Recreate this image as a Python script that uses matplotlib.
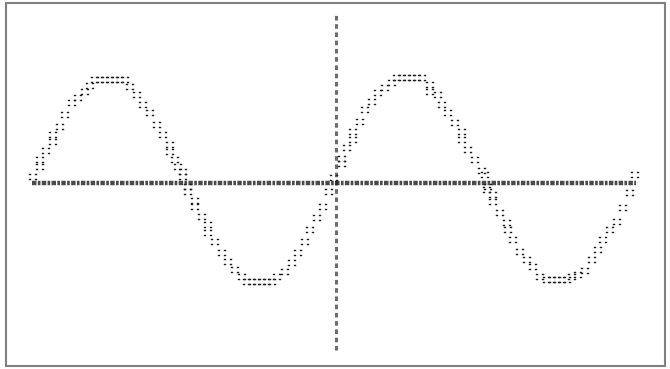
import matplotlib
matplotlib.use("Agg")
import matplotlib.pyplot as plt
from matplotlib.patches import Rectangle

# curve points (x in degrees, y in amplitude units)
curve_x = [1, 10, 10, 17, 25, 25, 33, 39, 48, 55, 63, 69,
           75, 81, 87, 93, 99, 105, 111,
           117, 125, 132, 141, 149, 156, 164, 164, 170, 174, 180, 180, 186,
           186, 194, 194, 203, 210, 210, 218, 226, 234, 242, 250,
           256, 262, 268, 274, 280, 286,
           292, 302, 310, 317, 325, 331, 340, 347, 354, 360,
           370, 370, 375, 383, 383, 391, 397, 405, 412, 421, 429,
           435, 441, 447, 453, 459, 465,
           474, 474, 484, 489, 496, 504, 513, 513, 520, 528, 536, 540,
           544, 542, 550, 550, 558, 566, 567, 573, 582, 590, 597, 606,
           614, 620, 626, 632, 638,
           644, 651, 659, 668, 675, 681, 689, 697, 705, 713, 719]
curve_y = [0.06, 0.16, 0.22, 0.31, 0.40, 0.47, 0.54, 0.66, 0.78, 0.83, 0.88, 0.94,
           1.00, 1.00, 1.00, 1.00, 1.00, 1.00, 1.00,
           0.93, 0.85, 0.76, 0.68, 0.56, 0.47, 0.37, 0.30, 0.22, 0.16, 0.11, 0.06, -0.04,
           -0.09, -0.17, -0.23, -0.33, -0.41, -0.49, -0.57, -0.68, -0.77, -0.84, -0.91,
           -0.96, -0.96, -0.96, -0.96, -0.96, -0.96,
           -0.91, -0.86, -0.78, -0.68, -0.57, -0.46, -0.34, -0.23, -0.09, 0.05,
           0.18, 0.23, 0.34, 0.42, 0.50, 0.59, 0.71, 0.79, 0.87, 0.92, 0.97,
           1.02, 1.02, 1.02, 1.02, 1.02, 1.02,
           0.95, 0.88, 0.85, 0.76, 0.68, 0.58, 0.50, 0.42, 0.32, 0.22, 0.12, 0.08,
           -0.04, -0.07, -0.12, -0.18, -0.29, -0.39, -0.46, -0.55, -0.67, -0.75, -0.82, -0.91,
           -0.94, -0.94, -0.94, -0.94, -0.94,
           -0.91, -0.89, -0.85, -0.75, -0.65, -0.55, -0.46, -0.38, -0.24, -0.10, 0.08]

x_axis_range = [0, 720]
y_axis_pos = 362
y_axis_range = [-1.62, 1.63]

ink = "#1e1e1e"

fig = plt.figure(figsize=(6.7, 3.69), dpi=100)
ax = fig.add_axes([0, 0, 1, 1])
ax.set_xlim(-38.1, 760.5)
ax.set_ylim(-1.806, 1.777)
ax.axis("off")

# horizontal axis: row of printed characters
ax.plot(x_axis_range, [0, 0], color=ink, lw=3.2, dashes=(1.0, 0.3, 0.6, 0.3), alpha=0.8)
# vertical axis: column of characters
ax.plot([y_axis_pos, y_axis_pos], y_axis_range, color=ink, lw=2.2, dashes=(1.5, 1.2), alpha=0.65)

# curve
ax.scatter(curve_x, curve_y, marker="$\u2237$", s=27, color=ink, linewidths=0.3, edgecolors=ink)

# scanned frame
fig.patches.append(Rectangle((6 / 670, 3 / 369), 659 / 670, 363 / 369, transform=fig.transFigure,
                             fill=False, edgecolor="#808080", lw=1.5))

fig.savefig("out.png", dpi=100, facecolor="white")
